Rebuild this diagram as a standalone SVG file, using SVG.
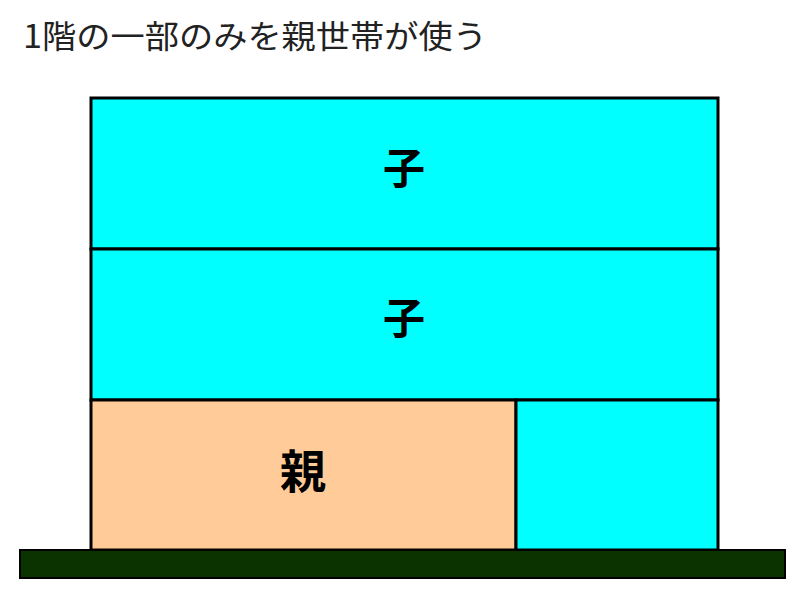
<svg xmlns="http://www.w3.org/2000/svg" width="800" height="600" viewBox="0 0 800 600">
<style>
.room{stroke:#000;stroke-width:3}
.child{fill:#00FFFF}
.parent{fill:#FFCC99}
.lbl{font-family:"Noto Sans CJK JP","Liberation Sans",sans-serif;font-weight:bold;fill:#000;text-anchor:middle}
.title{font-family:"Noto Sans CJK JP","Liberation Sans",sans-serif;fill:#222}
</style>
<rect width="800" height="600" fill="#fff"/>
<text class="title" x="23" y="48" font-size="32" textLength="464" lengthAdjust="spacingAndGlyphs">1階の一部のみを親世帯が使う</text>
<g id="floor3">
<rect class="room child" x="91" y="98" width="627" height="151"/>
<text class="lbl" x="404" y="184" font-size="42">子</text>
</g>
<g id="floor2">
<rect class="room child" x="91" y="249" width="627" height="151"/>
<text class="lbl" x="404" y="334" font-size="42">子</text>
</g>
<g id="floor1-parent">
<rect class="room parent" x="91" y="400" width="425" height="150"/>
<text class="lbl" x="303" y="488" font-size="46">親</text>
</g>
<g id="floor1-child">
<rect class="room child" x="516" y="400" width="202" height="150"/>
</g>
<g id="ground">
<rect x="20" y="550" width="765" height="28" fill="#0B3300" stroke="#000" stroke-width="2"/>
</g>
<g id="connectors"/>
</svg>
